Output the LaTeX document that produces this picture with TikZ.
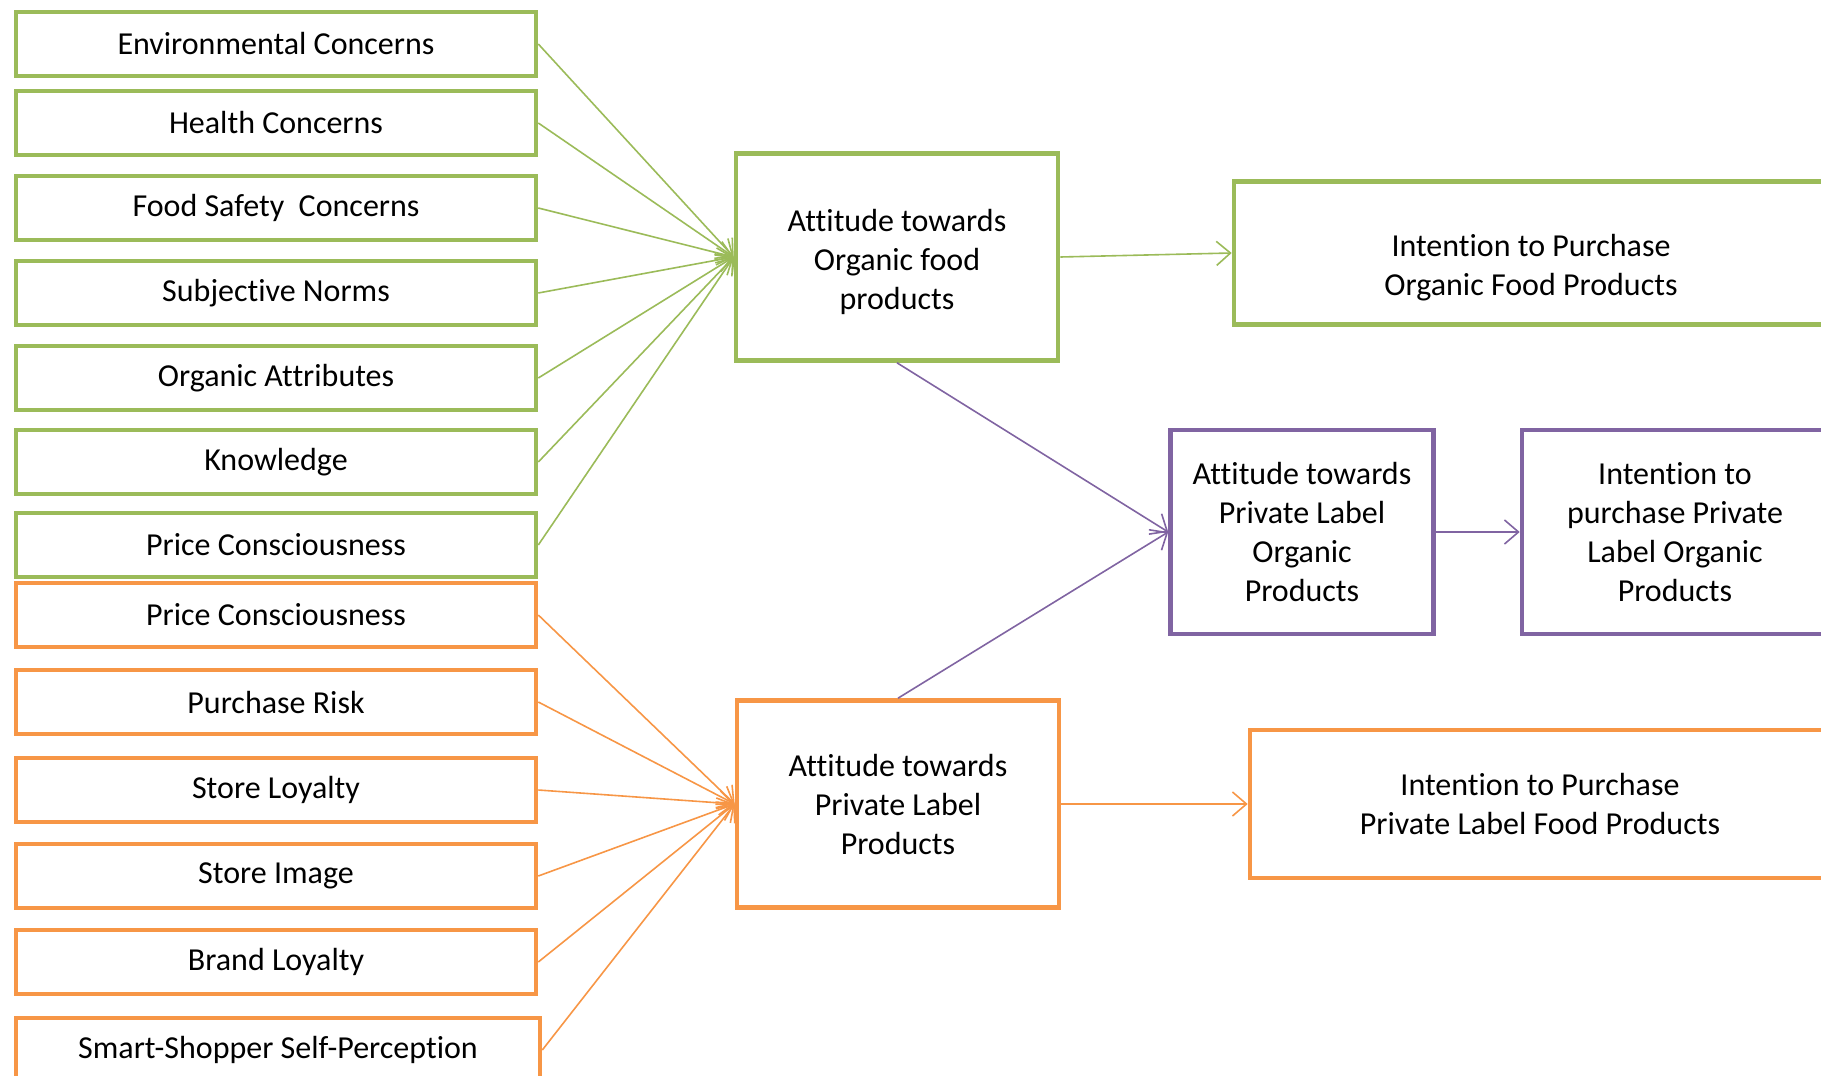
\documentclass[tikz,border=0pt]{standalone}
\usepackage{fontspec}
\setmainfont{Carlito}[Ligatures=NoCommon]
\usepackage{tikz}
\usetikzlibrary{arrows.meta}

\definecolor{ogreen}{RGB}{155,187,89}
\definecolor{oorange}{RGB}{247,150,70}
\definecolor{opurple}{RGB}{128,100,162}

\begin{document}
\begin{tikzpicture}[x=0.5pt, y=-0.5pt,
		box/.style={draw, fill=white, text=black, line width=2.3pt, align=center, inner sep=0pt, font=\fontsize{16}{19.5}\selectfont},
		factor/.style={box, minimum width=260pt, minimum height=32pt},
		attbox/.style={box, minimum width=161pt, minimum height=103.5pt},
		link/.style={line width=0.8pt, -{Straight Barb[length=7pt, width=12pt]}}]
				\useasboundingbox (0,0) rectangle (1821,1076);
				\clip (0,0) rectangle (1821,1076);
				
				% organic food factors
				\node[factor, draw=ogreen] (env) at (276,44) {Environmental Concerns};
				\node[factor, draw=ogreen] (health) at (276,123) {Health Concerns};
				\node[factor, draw=ogreen] (safety) at (276,208) {Food Safety\ \ Concerns};
				\node[factor, draw=ogreen] (norms) at (276,293) {Subjective Norms};
				\node[factor, draw=ogreen] (attr) at (276,378) {Organic Attributes};
				\node[factor, draw=ogreen] (know) at (276,462) {Knowledge};
				\node[factor, draw=ogreen] (priceO) at (276,545) {Price Consciousness};
				
				% private label factors
				\node[factor, draw=oorange] (priceP) at (276,615) {Price Consciousness};
				\node[factor, draw=oorange] (risk) at (276,702) {Purchase Risk};
				\node[factor, draw=oorange] (sloyal) at (276,790) {Store Loyalty};
				\node[factor, draw=oorange] (simage) at (276,876) {Store Image};
				\node[factor, draw=oorange] (bloyal) at (276,962) {Brand Loyalty};
				\node[factor, draw=oorange, minimum width=262pt] (smart) at (278,1050) {Smart-Shopper Self-Perception};
				
				% attitudes and intentions
				\node[attbox, draw=ogreen] (attO) at (897,257) {\rule{0pt}{16pt}Attitude towards\\Organic food\\products};
				\node[box, draw=ogreen, minimum width=297pt, minimum height=71.5pt] (intO) at (1531,253) {\rule{0pt}{26pt}Intention to Purchase\\Organic Food Products};
				
				\node[box, draw=opurple, minimum width=131.5pt, minimum height=102pt] (attPLO) at (1302,532) {Attitude towards\\Private Label\\Organic\\Products};
				\node[box, draw=opurple, minimum width=153pt, minimum height=102pt] (intPLO) at (1675,532) {Intention to\\purchase Private\\Label Organic\\Products};
				
				\node[attbox, draw=oorange] (attPL) at (898,804) {Attitude towards\\Private Label\\Products};
				\node[box, draw=oorange, minimum width=290pt, minimum height=74pt] (intPL) at (1540,804) {Intention to Purchase\\Private Label Food Products};
				
				\draw[link, ogreen] (env.east)--(attO.west);
				
				\draw[link, ogreen] (health.east)--(attO.west);
				
				\draw[link, ogreen] (safety.east)--(attO.west);
				
				\draw[link, ogreen] (norms.east)--(attO.west);
				
				\draw[link, ogreen] (attr.east)--(attO.west);
				
				\draw[link, ogreen] (know.east)--(attO.west);
				
				\draw[link, ogreen] (priceO.east)--(attO.west);
				
				\draw[link, oorange] (priceP.east)--(attPL.west);
				
				\draw[link, oorange] (risk.east)--(attPL.west);
				
				\draw[link, oorange] (sloyal.east)--(attPL.west);
				
				\draw[link, oorange] (simage.east)--(attPL.west);
				
				\draw[link, oorange] (bloyal.east)--(attPL.west);
				
				\draw[link, oorange] (smart.east)--(attPL.west);
				
				\draw[link, ogreen] (attO.east)--(intO.west);
				
				\draw[link, oorange] (attPL.east)--(intPL.west);
				
				\draw[link, opurple] (attO.south)--(attPLO.west);
				
				\draw[link, opurple] (attPL.north)--(attPLO.west);
				
				\draw[link, opurple] (attPLO.east)--(intPLO.west);
\end{tikzpicture}
\end{document}
